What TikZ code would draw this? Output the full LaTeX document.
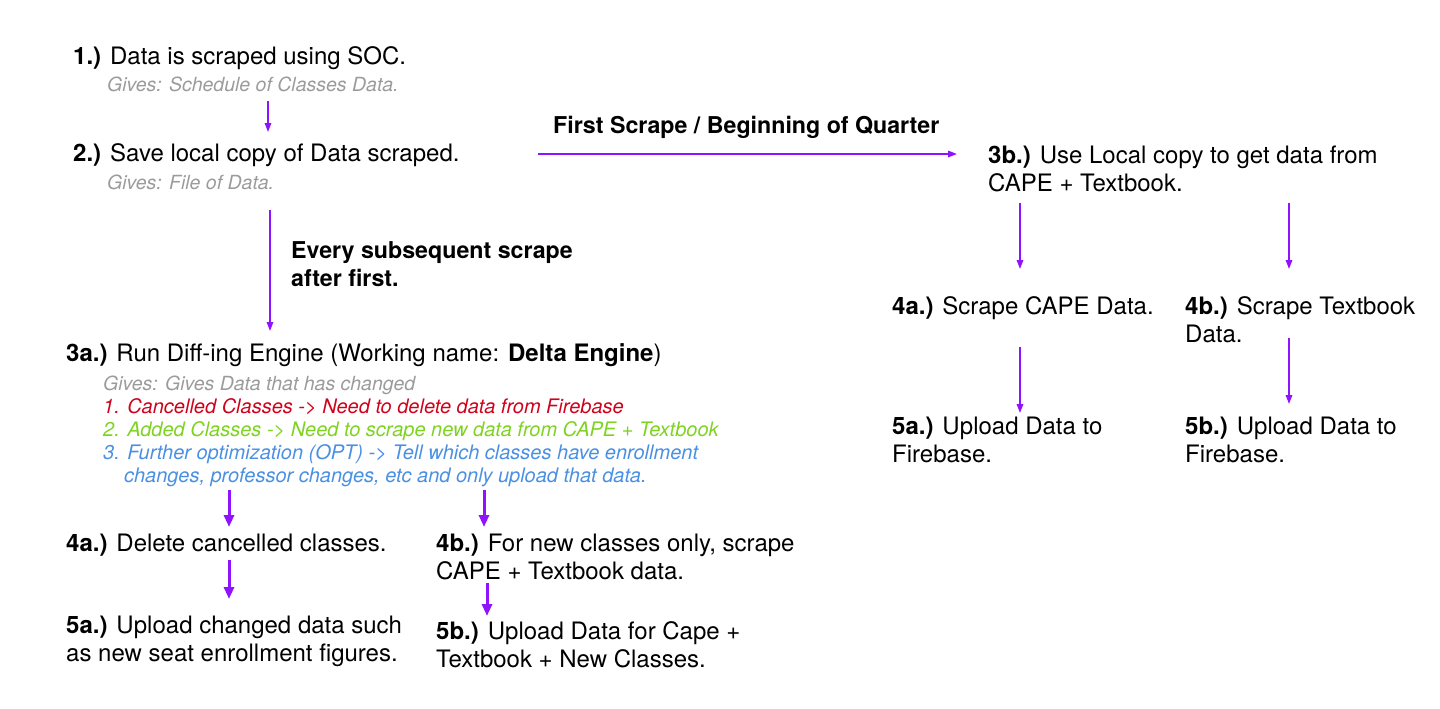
\documentclass[tikz,border=0pt]{standalone}
\usepackage{fontspec}
\setmainfont{TeX Gyre Heros}
\usetikzlibrary{arrows.meta}
\definecolor{arrowpurple}{HTML}{9013FE}
\definecolor{subgrey}{HTML}{9B9B9B}
\definecolor{subred}{HTML}{D0021B}
\definecolor{subgreen}{HTML}{7ED321}
\definecolor{subblue}{HTML}{4A90E2}
\begin{document}
\begin{tikzpicture}[x=1pt,y=-1pt,
  txt/.style={anchor=base west, inner sep=0pt, font=\fontsize{24}{28}\selectfont, align=left},
  sub/.style={anchor=base west, inner sep=0pt, font=\fontsize{19.5}{23}\selectfont\itshape},
  csub/.style={anchor=base west, inner sep=0pt, font=\fontsize{20}{23}\selectfont\itshape},
  lbl/.style={anchor=base west, inner sep=0pt, font=\fontsize{23.2}{28}\selectfont\bfseries, align=left},
  thinarrow/.style={draw=arrowpurple, line width=1.5pt, -{Triangle[length=9pt,width=6.5pt]}},
  thickarrow/.style={draw=arrowpurple, line width=3pt, -{Triangle[length=12pt,width=10pt]}}]
\useasboundingbox (0,0) rectangle (1440,709);

% left column
\node[txt] (s1) at (73,65) {\textbf{1.)} Data is scraped using SOC.};
\node[sub, text=subgrey] (g1) at (107,92) {Gives: Schedule of Classes Data.};
\node[txt] (s2) at (73,161) {\textbf{2.)} Save local copy of Data scraped.};
\node[sub, text=subgrey] (g2) at (107,189) {Gives: File of Data.};
\node[lbl] (lsub) at (291,286) {Every subsequent scrape\\after first.};
\node[lbl] (lfirst) at (553,133) {First Scrape / Beginning of Quarter};

\node[txt] (s3a) at (66,361) {\textbf{3a.)} Run Diff-ing Engine (Working name: \textbf{Delta Engine})};
\node[sub, text=subgrey] (g3a) at (103,390) {Gives: Gives Data that has changed};
\node[csub, text=subred] (r3a) at (103,413) {1. Cancelled Classes -> Need to delete data from Firebase};
\node[csub, text=subgreen] (gr3a) at (103,436) {2. Added Classes -> Need to scrape new data from CAPE + Textbook};
\node[csub, text=subblue] (b3a) at (103,459) {3. Further optimization (OPT) -> Tell which classes have enrollment};
\node[csub, text=subblue] (b3b) at (124,482) {changes, professor changes, etc and only upload that data.};

\node[txt] (s4a) at (66,551) {\textbf{4a.)} Delete cancelled classes.};
\node[txt] (s4b) at (436,579) {\textbf{4b.)} For new classes only, scrape\\CAPE + Textbook data.};
\node[txt] (s5a) at (66,661) {\textbf{5a.)} Upload changed data such\\as new seat enrollment figures.};
\node[txt] (s5b) at (436,667) {\textbf{5b.)} Upload Data for Cape +\\Textbook + New Classes.};

% right column
\node[txt] (s3b) at (988,191) {\textbf{3b.)} Use Local copy to get data from\\CAPE + Textbook.};
\node[txt] (r4a) at (892,314) {\textbf{4a.)} Scrape CAPE Data.};
\node[txt] (r4b) at (1185,342) {\textbf{4b.)} Scrape Textbook\\Data.};
\node[txt] (r5a) at (892,462) {\textbf{5a.)} Upload Data to\\Firebase.};
\node[txt] (r5b) at (1185,462) {\textbf{5b.)} Upload Data to\\Firebase.};

% arrow end points
\coordinate (a1s) at (268,101); \coordinate (a1e) at (268,132);
\coordinate (a2s) at (270,210); \coordinate (a2e) at (270,331);
\coordinate (ahs) at (538,154); \coordinate (ahe) at (957,154);
\coordinate (a3ls) at (1020,203); \coordinate (a3le) at (1020,269);
\coordinate (a3rs) at (1289,203); \coordinate (a3re) at (1289,269);
\coordinate (a4ls) at (1020,347); \coordinate (a4le) at (1020,413);
\coordinate (a4rs) at (1289,338); \coordinate (a4re) at (1289,404);
\coordinate (b1s) at (229,490); \coordinate (b1e) at (229,527);
\coordinate (b2s) at (484,490); \coordinate (b2e) at (484,527);
\coordinate (b3s) at (229,560); \coordinate (b3e) at (229,599);
\coordinate (b4s) at (487,583); \coordinate (b4e) at (487,616);

\draw[thinarrow] (a1s) -- (a1e);
\draw[thinarrow] (a2s) -- (a2e);
\draw[thinarrow] (ahs) -- (ahe);
\draw[thinarrow] (a3ls) -- (a3le);
\draw[thinarrow] (a3rs) -- (a3re);
\draw[thinarrow] (a4ls) -- (a4le);
\draw[thinarrow] (a4rs) -- (a4re);
\draw[thickarrow] (b1s) -- (b1e);
\draw[thickarrow] (b2s) -- (b2e);
\draw[thickarrow] (b3s) -- (b3e);
\draw[thickarrow] (b4s) -- (b4e);
\end{tikzpicture}
\end{document}
